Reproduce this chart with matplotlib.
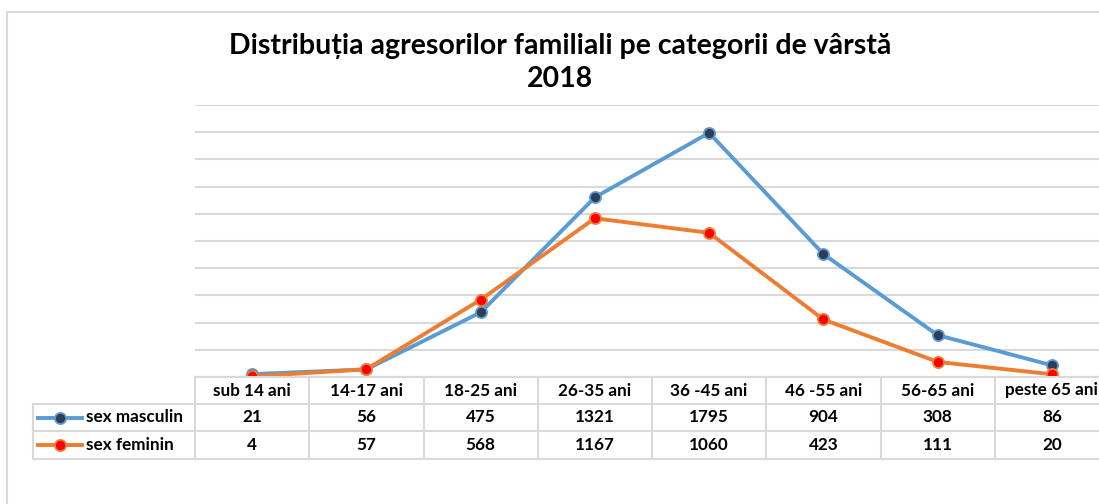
import matplotlib
matplotlib.use("Agg")
import matplotlib.pyplot as plt
from matplotlib.lines import Line2D
from matplotlib.patches import Rectangle
import matplotlib.transforms as mtransforms

categories = ["sub 14 ani", "14-17 ani", "18-25 ani", "26-35 ani", "36 -45 ani",
              "46 -55 ani", "56-65 ani", "peste 65 ani"]
series_names = ["sex masculin", "sex feminin"]
masculin = [21, 56, 475, 1321, 1795, 904, 308, 86]
feminin = [4, 57, 568, 1167, 1060, 423, 111, 20]
title_lines = ["Distribuția agresorilor familiali pe categorii de vârstă", "2018"]

W, H = 1099, 504
fig = plt.figure(figsize=(W / 100, H / 100), dpi=100)
plt.rcParams['font.family'] = ['Lato', 'DejaVu Sans']

def fx(px):
    return px / W

def fy(py):
    return 1 - py / H

grid_c = "#D9D9D9"
blue, blue_mk = "#5B9BD5", "#2F3E55"
orange, red_mk = "#ED7D31", "#FF0000"
LW, MS, MEW = 2.8, 8, 1.3

# outer border
fig.add_artist(Rectangle((fx(7), fy(540)), fx(1200), fy(12) - fy(540),
                         transform=fig.transFigure, fill=False,
                         edgecolor=grid_c, lw=1.5))

ax_l, ax_r, ax_t, ax_b = 195, 1109, 105, 377
ax = fig.add_axes([fx(ax_l), fy(ax_b), fx(ax_r - ax_l), fy(ax_t) - fy(ax_b)])
x = list(range(len(categories)))
ax.plot(x, masculin, color=blue, lw=LW, marker='o', ms=MS,
        markerfacecolor=blue_mk, markeredgecolor=blue, markeredgewidth=MEW,
        solid_joinstyle='round', zorder=3)
ax.plot(x, feminin, color=orange, lw=LW, marker='o', ms=MS,
        markerfacecolor=red_mk, markeredgecolor=orange, markeredgewidth=MEW,
        solid_joinstyle='round', zorder=3)
ax.set_xlim(-0.5, len(categories) - 0.5)
ax.set_ylim(0, 2000)
ax.set_yticks(range(0, 2001, 200))
ax.yaxis.grid(True, color=grid_c, lw=1.5)
ax.set_axisbelow(True)
ax.tick_params(left=False, bottom=False, labelleft=False, labelbottom=False)
for s in ax.spines.values():
    s.set_visible(False)

# title (two lines placed separately)
fig.text(fx(560), fy(46), title_lines[0], ha='center', va='center', fontsize=20.5,
         fontweight='bold')
fig.text(fx(560), fy(79), title_lines[1], ha='center', va='center', fontsize=20.5,
         fontweight='bold')

# data table
bt = mtransforms.blended_transform_factory(ax.transData, fig.transFigure)
rows_y = [377, 404, 431, 459]
leg_l = 33

def hline(x0px, x1px, ypx):
    fig.add_artist(Line2D([fx(x0px), fx(x1px)], [fy(ypx), fy(ypx)],
                          transform=fig.transFigure, color=grid_c, lw=1.5))

def vline(xpx, y0px, y1px):
    fig.add_artist(Line2D([fx(xpx), fx(xpx)], [fy(y0px), fy(y1px)],
                          transform=fig.transFigure, color=grid_c, lw=1.5))

hline(ax_l, ax_r, rows_y[0])
for yy in rows_y[1:]:
    hline(leg_l, ax_r, yy)
vline(leg_l, rows_y[1], rows_y[3])
ncol = len(categories)
colw = (ax_r - ax_l) / ncol
for i in range(ncol + 1):
    vline(ax_l + i * colw, rows_y[0], rows_y[3])

fs = 12.3
for i, c in enumerate(categories):
    fig.text(i, fy((rows_y[0] + rows_y[1]) / 2), c, transform=bt,
             ha='center', va='center', fontsize=fs, fontweight='bold')
for r, (vals, lc, mfc) in enumerate([(masculin, blue, blue_mk), (feminin, orange, red_mk)]):
    yc = (rows_y[r + 1] + rows_y[r + 2]) / 2
    for i, v in enumerate(vals):
        fig.text(i, fy(yc), str(v), transform=bt, ha='center', va='center',
                 fontsize=fs, fontweight='bold')
    fig.add_artist(Line2D([fx(38), fx(82)], [fy(yc), fy(yc)], transform=fig.transFigure,
                          color=lc, lw=LW))
    fig.add_artist(Line2D([fx(60)], [fy(yc)], transform=fig.transFigure, marker='o',
                          ms=MS, markerfacecolor=mfc, markeredgecolor=lc,
                          markeredgewidth=MEW, linestyle='none'))
    fig.text(fx(86), fy(yc), series_names[r], ha='left', va='center',
             fontsize=fs, fontweight='bold')

fig.savefig("out.png", dpi=100)
